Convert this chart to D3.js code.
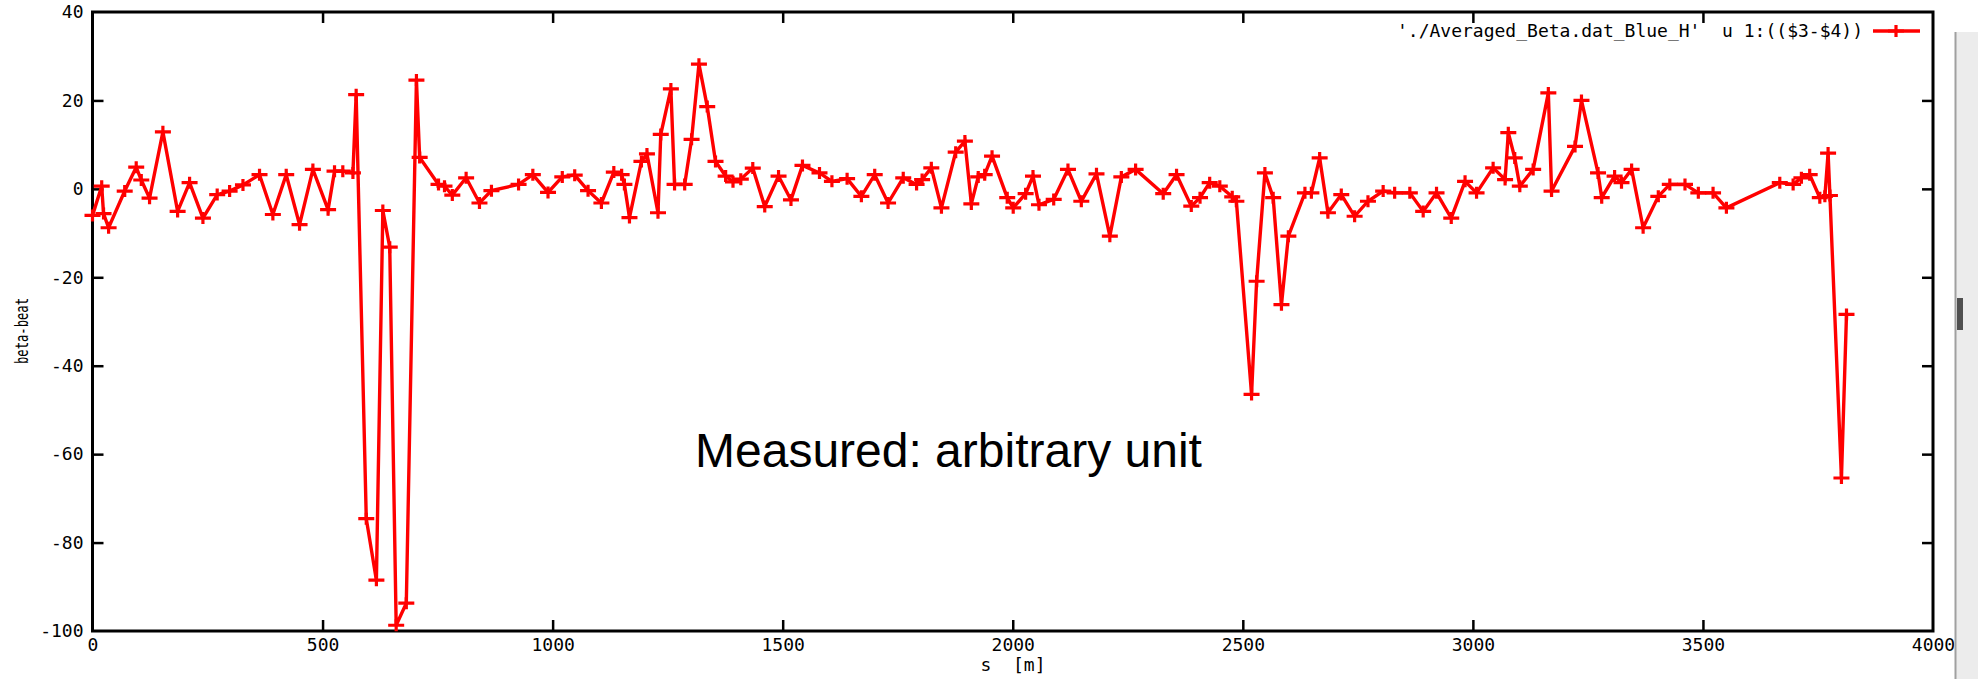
<!DOCTYPE html>
<html>
<head>
	<meta charset="utf-8">
	<title>beta-beat</title>
	<script src="https://d3js.org/d3.v7.min.js"></script>
	<style type="text/css">
		body { margin: 0; background: #fff; }
		.gp text {
			font-family: "DejaVu Sans Mono", monospace;
			font-size: 18px;
			fill: #000;
			white-space: pre;
		}
		.trace {
			fill: none;
			stroke: #ff0000;
			stroke-width: 3.4;
			stroke-linejoin: miter;
		}
		.pt {
			fill: none;
			stroke: #ff0000;
			stroke-width: 3.2;
		}
	</style>
</head>
<body>
<div id="chart"></div>
<script type="text/javascript">
// s positions [m]
var sPos = [0, 20, 24, 35, 70, 95, 106, 124, 153, 185,
	211, 240, 271, 298, 327, 363, 392, 421, 450, 479,
	512, 526, 544, 566, 573, 595, 617, 631, 646, 660,
	682, 704, 711, 752, 765, 782, 812, 841, 867, 926,
	957, 990, 1021, 1048, 1077, 1106, 1133, 1150, 1156, 1167,
	1193, 1205, 1229, 1235, 1257, 1265, 1287, 1302, 1318, 1336,
	1354, 1376, 1392, 1409, 1435, 1461, 1491, 1518, 1543, 1580,
	1607, 1640, 1671, 1700, 1729, 1762, 1791, 1803, 1823, 1845,
	1876, 1896, 1910, 1925, 1939, 1955, 1988, 2001, 2028, 2044,
	2057, 2089, 2120, 2149, 2182, 2211, 2236, 2267, 2327, 2356,
	2388, 2407, 2428, 2450, 2477, 2486, 2519, 2530, 2548, 2566,
	2584, 2599, 2635, 2649, 2667, 2685, 2714, 2743, 2772, 2805,
	2830, 2863, 2892, 2921, 2953, 2983, 3008, 3044, 3070, 3077,
	3091, 3102, 3131, 3164, 3171, 3222, 3236, 3272, 3280, 3308,
	3323, 3345, 3370, 3403, 3428, 3461, 3490, 3522, 3551, 3667,
	3696, 3714, 3732, 3754, 3765, 3772, 3776, 3801, 3812];

// ($3-$4) column
var betaBeat = [-6, 0.6, -5.6, -8.8, -0.5, 4.9, 2.0, -2.1, 12.9, -5.1,
	1.4, -6.6, -1.3, -0.5, 0.9, 3.2, -5.8, 3.2, -8.1, 4.4,
	-4.7, 4.0, 4.0, 3.6, 21.3, -74.6, -88.5, -4.9, -13.2, -98.7,
	-93.7, 24.6, 7.1, 1.0, 0.6, -1.4, 2.5, -3.2, -0.4, 1.0,
	3.2, -0.8, 2.7, 3.1, -0.4, -3.2, 3.8, 3.2, 1.0, -6.5,
	6.2, 7.9, -5.4, 12.3, 22.6, 1.0, 1.0, 11.2, 28.2, 18.6,
	6.2, 2.9, 1.6, 2.2, 4.7, -4.0, 2.9, -2.5, 5.3, 3.6,
	1.7, 2.3, -1.7, 3.2, -3.2, 2.5, 1.0, 2.1, 4.75, -4.3,
	8.3, 10.8, -3.4, 2.7, 3.2, 7.4, -2.0, -4.3, -1.1, 2.9,
	-3.6, -2.4, 4.4, -2.8, 3.4, -10.7, 2.7, 4.4, -1.1, 3.2,
	-3.9, -2.0, 1.4, 0.6, -1.8, -2.8, -46.5, -20.9, 3.6, -2.0,
	-26.2, -10.7, -0.9, -0.9, 7.0, -5.4, -1.3, -6.2, -2.8, -0.5,
	-0.9, -0.9, -5.1, -0.9, -6.6, 1.7, -0.9, 4.75, 2.1, 12.7,
	7.0, 0.6, 4.4, 21.7, -0.5, 9.6, 20.0, 3.6, -2.0, 2.9,
	1.4, 4.4, -8.8, -1.7, 1.0, 1.0, -0.9, -0.9, -4.3, 1.4,
	1.0, 2.5, 3.2, -2.0, -1.7, 8.1, -1.5, -65.4, -28.4];

var xTicks = [0, 500, 1000, 1500, 2000, 2500, 3000, 3500, 4000];
var yTicks = [-100, -80, -60, -40, -20, 0, 20, 40];
var legendLabel = "'./Averaged_Beta.dat_Blue_H'  u 1:(($3-$4))";
var xLabel = "s  [m]";
var yLabel = "beta-beat";
var note = "Measured: arbitrary unit";

var svg_width = 1978;
var svg_height = 679;
var plot = {left: 92.5, right: 1933, top: 12, bottom: 631};

var svg = d3.select("#chart")
	.append("svg")
	.attr("width", svg_width)
	.attr("height", svg_height)
	.attr("class", "gp");

var x = d3.scaleLinear().domain([0, 4000]).range([plot.left, plot.right]);
var y = d3.scaleLinear().domain([-100, 40]).range([plot.bottom, plot.top]);

var points = sPos.map(function(s, i) { return {s: s, v: betaBeat[i]}; });

// plain ascii minus like gnuplot
var fmt = function(d) { return String(d); };

// axes: gnuplot style, ticks pointing in and mirrored
function styleAxis(g) {
	g.select(".domain").remove();
	g.selectAll(".tick line").attr("stroke", "#000").attr("stroke-width", 2.5);
	g.selectAll(".tick text").attr("font-family", null).attr("font-size", null);
}
svg.append("g")
	.attr("transform", "translate(0," + plot.bottom + ")")
	.call(d3.axisBottom(x).tickValues(xTicks).tickSizeInner(-11).tickSizeOuter(0).tickPadding(7).tickFormat(fmt))
	.call(styleAxis)
	.call(function(g) { g.selectAll(".tick line").filter(function(d) { return d == 0 || d == 4000; }).remove(); });
svg.append("g")
	.attr("transform", "translate(0," + plot.top + ")")
	.call(d3.axisTop(x).tickValues(xTicks.slice(1, -1)).tickSizeInner(-11).tickSizeOuter(0).tickFormat(""))
	.call(styleAxis);
svg.append("g")
	.attr("transform", "translate(" + plot.left + ",0)")
	.call(d3.axisLeft(y).tickValues(yTicks).tickSizeInner(-11).tickSizeOuter(0).tickPadding(9).tickFormat(fmt))
	.call(styleAxis)
	.call(function(g) { g.selectAll(".tick line").filter(function(d) { return d == -100 || d == 40; }).remove(); });
svg.append("g")
	.attr("transform", "translate(" + plot.right + ",0)")
	.call(d3.axisRight(y).tickValues(yTicks.slice(1, -1)).tickSizeInner(-11).tickSizeOuter(0).tickFormat(""))
	.call(styleAxis);

// border
svg.append("rect")
	.attr("x", plot.left)
	.attr("y", plot.top)
	.attr("width", plot.right - plot.left)
	.attr("height", plot.bottom - plot.top)
	.attr("fill", "none")
	.attr("stroke", "#000")
	.attr("stroke-width", 3);

// axis titles
svg.append("text")
	.attr("x", 1013)
	.attr("y", 671)
	.attr("text-anchor", "middle")
	.text(xLabel);
svg.append("text")
	.attr("transform", "translate(28,331) rotate(-90)")
	.attr("text-anchor", "middle")
	.attr("textLength", 66)
	.attr("lengthAdjust", "spacingAndGlyphs")
	.style("font-size", "17px")
	.text(yLabel);

// data
var line = d3.line()
	.x(function(d) { return x(d.s); })
	.y(function(d) { return y(d.v); });
svg.append("path")
	.datum(points)
	.attr("class", "trace")
	.attr("d", line);

function plus(cx, cy) {
	return "M" + (cx - 8) + "," + cy + "H" + (cx + 8) + "M" + cx + "," + (cy - 6) + "V" + (cy + 6);
}
svg.selectAll(".pt")
	.data(points)
	.enter()
	.append("path")
	.attr("class", "pt")
	.attr("d", function(d) { return plus(x(d.s), y(d.v)); });

// key
var key = svg.append("g").attr("transform", "translate(0,31)");
key.append("text")
	.attr("x", 1863)
	.attr("dy", "0.35em")
	.attr("text-anchor", "end")
	.text(legendLabel);
key.append("line")
	.attr("x1", 1873).attr("x2", 1920)
	.attr("stroke", "#ff0000").attr("stroke-width", 3.4);
key.append("path")
	.attr("class", "pt")
	.attr("d", plus(1896, 0));

// annotation
svg.append("text")
	.attr("x", 695)
	.attr("y", 467)
	.style("font-family", "'Liberation Sans', Arial, sans-serif")
	.style("font-size", "48px")
	.text(note);

// window scrollbar strip at the right edge of the screenshot
var bar = svg.append("g");
bar.append("rect")
	.attr("x", 1955).attr("y", 32)
	.attr("width", 23).attr("height", svg_height - 32)
	.attr("fill", "#ececec");
bar.append("line")
	.attr("x1", 1955.5).attr("x2", 1955.5)
	.attr("y1", 32).attr("y2", svg_height)
	.attr("stroke", "#a0a0a0").attr("stroke-width", 2);
bar.append("rect")
	.attr("x", 1957).attr("y", 298)
	.attr("width", 6).attr("height", 32)
	.attr("fill", "#505050");
</script>
</body>
</html>
